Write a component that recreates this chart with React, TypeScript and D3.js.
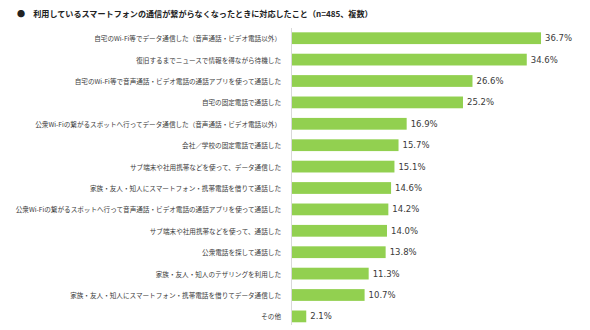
import React from "react";
import * as d3 from "d3";

const title = "●\u3000利用しているスマートフォンの通信が繋がらなくなったときに対応したこと（n=485、複数）";

const categories = [
  "自宅のWi-Fi等でデータ通信した（音声通話・ビデオ電話以外）",
  "復旧するまでニュースで情報を得ながら待機した",
  "自宅のWi-Fi等で音声通話・ビデオ電話の通話アプリを使って通話した",
  "自宅の固定電話で通話した",
  "公衆Wi-Fiの繋がるスポットへ行ってデータ通信した（音声通話・ビデオ電話以外）",
  "会社／学校の固定電話で通話した",
  "サブ端末や社用携帯などを使って、データ通信した",
  "家族・友人・知人にスマートフォン・携帯電話を借りて通話した",
  "公衆Wi-Fiの繋がるスポットへ行って音声通話・ビデオ電話の通話アプリを使って通話した",
  "サブ端末や社用携帯などを使って、通話した",
  "公衆電話を探して通話した",
  "家族・友人・知人のテザリングを利用した",
  "家族・友人・知人にスマートフォン・携帯電話を借りてデータ通信した",
  "その他",
];

const values = [36.7, 34.6, 26.6, 25.2, 16.9, 15.7, 15.1, 14.6, 14.2, 14.0, 13.8, 11.3, 10.7, 2.1];

const W = 590;
const H = 330;
const axisX = 291.5;
const barColor = "#92D050";
const textColor = "#3a3a3a";

export default function App() {
  const x = d3.scaleLinear().domain([0, 40]).range([292, 292 + 40 * 6.785]);
  const y = d3
    .scaleBand<string>()
    .domain(categories)
    .range([27.5, 327.1])
    .paddingInner(0.45)
    .paddingOuter(0.225);

  return (
    <svg
      width={W}
      height={H}
      style={{ position: "fixed", left: 0, top: 0, background: "#ffffff" }}
    >
      <rect x={0} y={0} width={W} height={H} fill="#ffffff" />
      <text
        x={17}
        y={13}
        dominantBaseline="central"
        fontFamily="'Noto Sans CJK JP', sans-serif"
        fontWeight="bold"
        fontSize={8.1}
        fill="#222222"
      >
        {title}
      </text>
      <line x1={axisX} x2={axisX} y1={28} y2={325} stroke="#d9d9d9" strokeWidth={1} />
      {categories.map((c, i) => {
        const yy = y(c) as number;
        const bh = y.bandwidth();
        const cy = yy + bh / 2;
        const xe = x(values[i]);
        return (
          <g key={c}>
            <rect x={x(0)} y={yy} width={xe - x(0)} height={bh} fill={barColor} />
            <text
              x={281}
              y={cy}
              textAnchor="end"
              dominantBaseline="central"
              fontFamily="'Noto Sans CJK JP', sans-serif"
              fontSize={6.6}
              fill={textColor}
            >
              {c}
            </text>
            <text
              x={xe + 4}
              y={cy}
              dominantBaseline="central"
              fontFamily="'DejaVu Sans', Verdana, sans-serif"
              fontSize={8.5}
              fill={textColor}
            >
              {values[i].toFixed(1) + "%"}
            </text>
          </g>
        );
      })}
    </svg>
  );
}
